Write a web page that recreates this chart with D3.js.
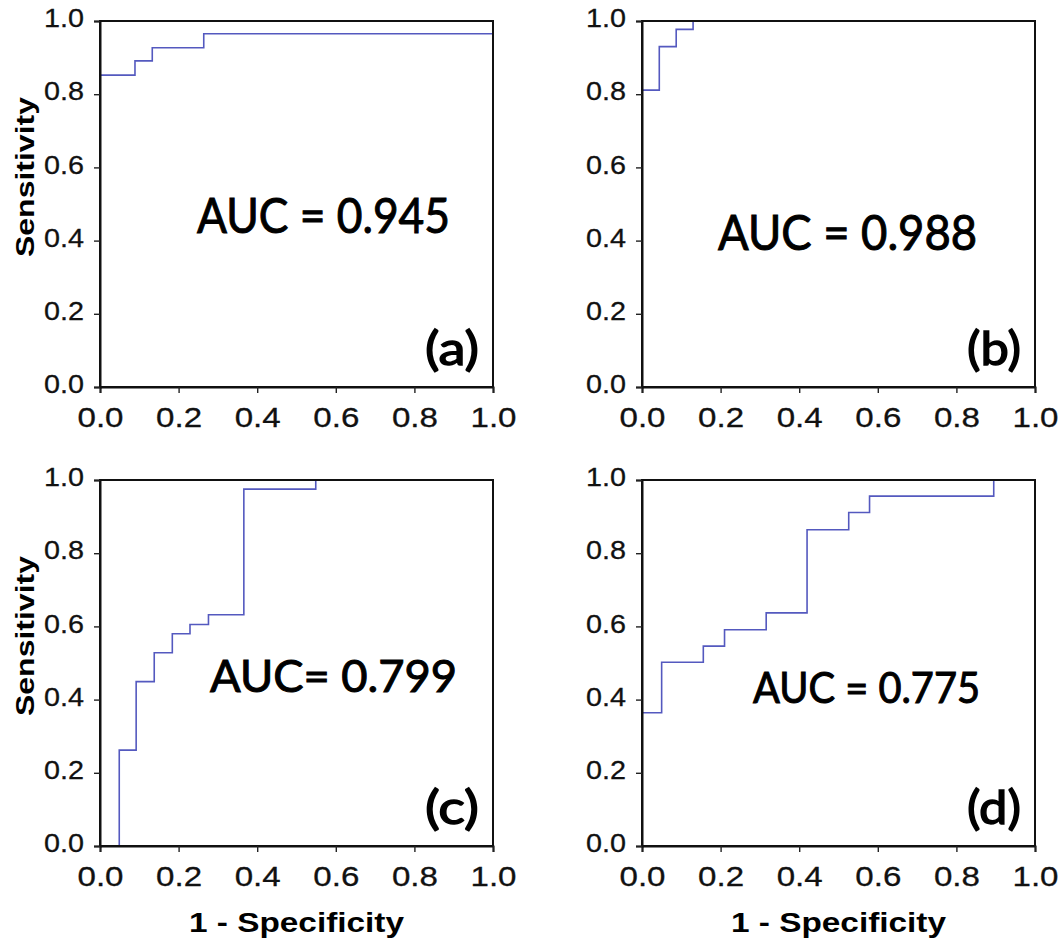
<!DOCTYPE html>
<html>
<head>
<meta charset="utf-8">
<script src="https://cdn.jsdelivr.net/npm/d3@7/dist/d3.min.js"></script>
<style>
  body { margin: 0; background: #fff; }
  svg { display: block; }
</style>
</head>
<body>
<div id="chart"></div>
<script>
const width = 1062;
const height = 940;

/* Data
-----------------------------------------------------------------------------*/
const tickValues = [0, 0.2, 0.4, 0.6, 0.8, 1.0];

// ROC points, read as (1 - specificity, sensitivity); drawn as steps
const rocA = [
  [0, 0], [0, 0.852], [0.089, 0.891], [0.133, 0.927], [0.264, 0.965], [1, 1],
];
const rocB = [
  [0, 0], [0, 0.811], [0.044, 0.93], [0.087, 0.977], [0.13, 1], [1, 1],
];
const rocC = [
  [0, 0], [0.049, 0.262], [0.092, 0.449], [0.138, 0.528], [0.184, 0.58],
  [0.229, 0.605], [0.276, 0.632], [0.366, 0.975], [0.549, 1], [1, 1],
];
const rocD = [
  [0, 0], [0, 0.364], [0.05, 0.502], [0.156, 0.546], [0.21, 0.591],
  [0.316, 0.637], [0.42, 0.864], [0.526, 0.911], [0.579, 0.956],
  [0.895, 1], [1, 1],
];

const aucLabels = ['AUC = 0.945', 'AUC = 0.988', 'AUC= 0.799', 'AUC = 0.775'];
const panelLabels = ['(a)', '(b)', '(c)', '(d)'];

/* Layout
-----------------------------------------------------------------------------*/
const plotW = 393;
const plotH = 366;

const panels = [
  { left: 100, top: 21, roc: rocA, yLabel: true, xLabel: false,
    auc: { x: 97, y: 212, w: 253, size: 49 } },
  { left: 642, top: 21, roc: rocB, yLabel: false, xLabel: false,
    auc: { x: 76, y: 229, w: 259, size: 49 } },
  { left: 100, top: 480, roc: rocC, yLabel: true, xLabel: true,
    auc: { x: 110, y: 212, w: 247, size: 44 } },
  { left: 642, top: 480, roc: rocD, yLabel: false, xLabel: true,
    auc: { x: 111, y: 223, w: 227, size: 42 } },
];

const x = d3.scaleLinear().domain([0, 1]).range([0, plotW]);
const y = d3.scaleLinear().domain([0, 1]).range([plotH, 0]);

const svg = d3
  .select('#chart')
  .append('svg')
  .attr('width', width)
  .attr('height', height)
  .attr('xmlns', 'http://www.w3.org/2000/svg');

const line = d3
  .line()
  .x((d) => x(d[0]))
  .y((d) => y(d[1]))
  .curve(d3.curveStepAfter);

/* Panels
-----------------------------------------------------------------------------*/
panels.forEach((p, i) => {
  const g = svg.append('g').attr('transform', `translate(${p.left},${p.top})`);

  // roc curve
  g.append('path')
    .datum(p.roc)
    .attr('fill', 'none')
    .attr('stroke', '#5459bf')
    .attr('stroke-width', 1.6)
    .attr('d', line);

  // frame
  g.append('rect')
    .attr('width', plotW)
    .attr('height', plotH)
    .attr('fill', 'none')
    .attr('stroke', '#111')
    .attr('stroke-width', 2);

  const xAxis = g
    .append('g')
    .attr('transform', `translate(0,${plotH})`)
    .call(
      d3.axisBottom(x).tickValues(tickValues).tickFormat(d3.format('.1f'))
        .tickSize(6).tickPadding(14)
    );

  const yAxis = g
    .append('g')
    .call(
      d3.axisLeft(y).tickValues(tickValues).tickFormat(d3.format('.1f'))
        .tickSize(6).tickPadding(10)
    );

  [xAxis, yAxis].forEach((ax) => {
    ax.select('.domain').attr('stroke', '#111').attr('stroke-width', 2);
    ax.selectAll('.tick line').attr('stroke', '#222').attr('stroke-width', 1.4);
    ax.selectAll('.tick text')
      .attr('fill', '#111')
      .attr('stroke', '#111')
      .attr('stroke-width', 0.3)
      .style('font-family', '"Liberation Sans", Arial, sans-serif')
      .attr('lengthAdjust', 'spacingAndGlyphs');
  });

  xAxis.selectAll('.tick text')
    .style('font-size', '28px')
    .attr('textLength', 46);

  yAxis.selectAll('.tick text')
    .style('font-size', '26px')
    .attr('dy', '0.22em')
    .attr('textLength', 40);

  // AUC annotation
  g.append('text')
    .attr('x', p.auc.x)
    .attr('y', p.auc.y)
    .attr('textLength', p.auc.w)
    .attr('lengthAdjust', 'spacingAndGlyphs')
    .style('font-family', 'Lato, "Open Sans", sans-serif')
    .style('font-size', p.auc.size + 'px')
    .attr('fill', '#000')
    .attr('stroke', '#000')
    .attr('stroke-width', 1)
    .text(aucLabels[i]);

  // panel letter
  g.append('text')
    .attr('x', 325)
    .attr('y', 344)
    .attr('textLength', 54)
    .attr('lengthAdjust', 'spacingAndGlyphs')
    .style('font-family', 'Lato, "Open Sans", sans-serif')
    .style('font-size', '46px')
    .attr('fill', '#000')
    .attr('stroke', '#000')
    .attr('stroke-width', 1.4)
    .text(panelLabels[i]);

  if (p.yLabel) {
    g.append('text')
      .attr('transform', `translate(-66,${plotH / 2 - 27}) rotate(-90)`)
      .attr('text-anchor', 'middle')
      .attr('textLength', 160)
      .attr('lengthAdjust', 'spacingAndGlyphs')
      .style('font-family', '"Liberation Sans", Arial, sans-serif')
      .style('font-size', '25px')
      .style('font-weight', 700)
      .attr('fill', '#000')
      .text('Sensitivity');
  }

  if (p.xLabel) {
    g.append('text')
      .attr('x', plotW / 2)
      .attr('y', plotH + 86)
      .attr('text-anchor', 'middle')
      .attr('textLength', 215)
      .attr('lengthAdjust', 'spacingAndGlyphs')
      .style('font-family', '"Liberation Sans", Arial, sans-serif')
      .style('font-size', '28px')
      .style('font-weight', 700)
      .attr('fill', '#000')
      .text('1 - Specificity');
  }
});
</script>
</body>
</html>
